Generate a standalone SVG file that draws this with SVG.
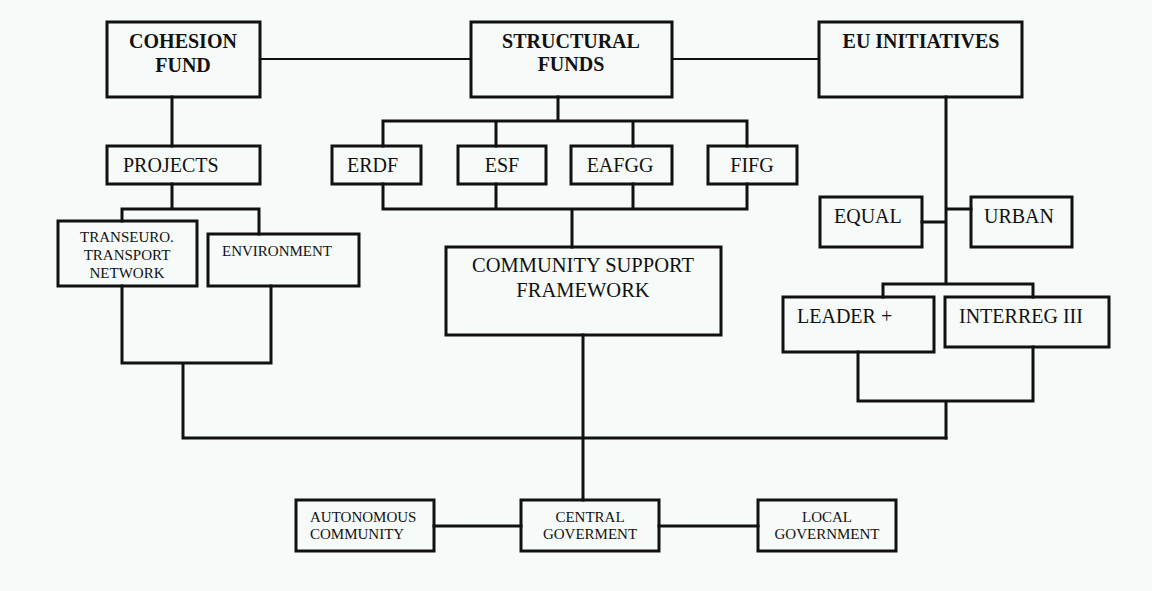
<svg xmlns="http://www.w3.org/2000/svg" width="1152" height="591" viewBox="0 0 1152 591">
<style>
.box{fill:none;stroke:#111;stroke-width:3}
.t{font-family:"Liberation Serif","Times New Roman",serif;fill:#111}
.b{font-weight:bold;font-size:20px;text-anchor:middle}
.m{font-size:20px}
.s{font-size:15px}
.c{text-anchor:middle}
.ln{fill:none;stroke:#111;stroke-width:3;stroke-linecap:square}
.thin{fill:none;stroke:#111;stroke-width:2}
</style>
<rect width="1152" height="591" fill="#f6faf8"/>
<g id="connectors">
<path class="thin" d="M260 59H471M672 59H819"/>
<path class="ln" d="M172 97V146M172 184V209M122 209H259M122 209V221M259 209V234"/>
<path class="ln" d="M122 286V363H271V286M183 363V438H946"/>
<path class="ln" d="M558 97V121M383 121H747M383 121V146M496 121V146M633 121V146M747 121V146"/>
<path class="ln" d="M383 184V209H747V184M496 184V209M633 184V209M572 209V247"/>
<path class="ln" d="M583 335V500"/>
<path class="ln" d="M946 97V284M922 222H946M946 209H971M883 284H1033M883 284V297M1033 284V297"/>
<path class="ln" d="M858 352V401H1033V347M946 401V438"/>
<path class="ln" d="M434 526H521M659 526H758"/>
</g>
<g id="cohesion"><rect class="box" x="107" y="22" width="153" height="75"/><text class="t b" x="183" y="48">COHESION</text><text class="t b" x="183" y="72">FUND</text></g>
<g id="structural"><rect class="box" x="471" y="22" width="201" height="75"/><text class="t b" x="571" y="48">STRUCTURAL</text><text class="t b" x="571" y="71">FUNDS</text></g>
<g id="eu"><rect class="box" x="819" y="22" width="203" height="75"/><text class="t b" x="921" y="48">EU INITIATIVES</text></g>
<g id="projects"><rect class="box" x="107" y="146" width="153" height="38"/><text class="t m" x="123" y="172">PROJECTS</text></g>
<g id="erdf"><rect class="box" x="332" y="146" width="89" height="38"/><text class="t m" x="347" y="172">ERDF</text></g>
<g id="esf"><rect class="box" x="458" y="146" width="88" height="38"/><text class="t m c" x="502" y="172">ESF</text></g>
<g id="eafgg"><rect class="box" x="571" y="146" width="101" height="38"/><text class="t m c" x="620" y="172">EAFGG</text></g>
<g id="fifg"><rect class="box" x="708" y="146" width="89" height="38"/><text class="t m c" x="752" y="172">FIFG</text></g>
<g id="transeuro"><rect class="box" x="58" y="221" width="139" height="65"/><text class="t s c" x="127" y="242">TRANSEURO.</text><text class="t s c" x="127" y="260">TRANSPORT</text><text class="t s c" x="127" y="278">NETWORK</text></g>
<g id="environment"><rect class="box" x="208" y="234" width="151" height="52"/><text class="t s" x="222" y="256">ENVIRONMENT</text></g>
<g id="csf"><rect class="box" x="446" y="247" width="275" height="88"/><text class="t c" style="font-size:20.5px" x="583" y="272">COMMUNITY SUPPORT</text><text class="t c" style="font-size:20.5px" x="583" y="297">FRAMEWORK</text></g>
<g id="equal"><rect class="box" x="820" y="197" width="102" height="50"/><text class="t m" x="834" y="223">EQUAL</text></g>
<g id="urban"><rect class="box" x="971" y="197" width="101" height="50"/><text class="t m" x="984" y="223">URBAN</text></g>
<g id="leader"><rect class="box" x="783" y="297" width="151" height="55"/><text class="t m" x="797" y="323">LEADER +</text></g>
<g id="interreg"><rect class="box" x="945" y="297" width="164" height="50"/><text class="t m" x="959" y="323">INTERREG III</text></g>
<g id="autonomous"><rect class="box" x="296" y="500" width="138" height="51"/><text class="t s" x="310" y="522">AUTONOMOUS</text><text class="t s" x="310" y="539">COMMUNITY</text></g>
<g id="central"><rect class="box" x="521" y="500" width="138" height="51"/><text class="t s c" x="590" y="522">CENTRAL</text><text class="t s c" x="590" y="539">GOVERMENT</text></g>
<g id="local"><rect class="box" x="758" y="500" width="138" height="51"/><text class="t s c" x="827" y="522">LOCAL</text><text class="t s c" x="827" y="539">GOVERNMENT</text></g>
</svg>
